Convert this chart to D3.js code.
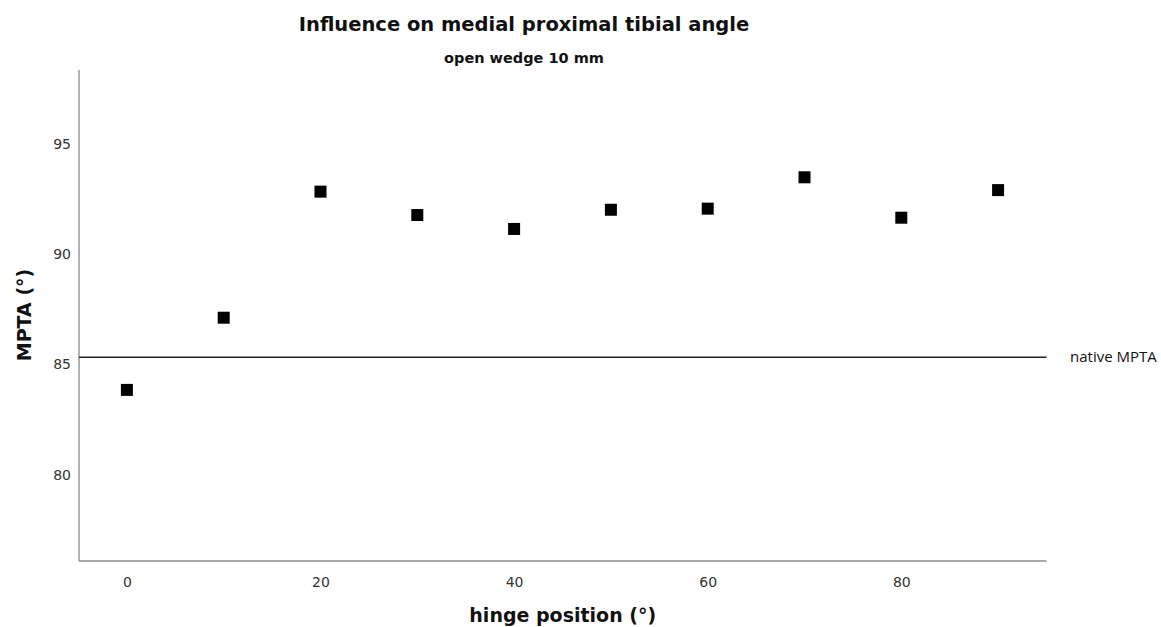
<!DOCTYPE html>
<html>
<head>
<meta charset="utf-8">
<script src="https://cdn.jsdelivr.net/npm/d3@7"></script>
<style>
    body { margin: 0; background: #fff; }
    svg { display: block; }
</style>
</head>
<body>
<div class="scatter"></div>
<script>
const width = 1161, height = 627;
const fontFamily = 'DejaVu Sans, sans-serif';

// data
const hinge_positions = [0, 10, 20, 30, 40, 50, 60, 70, 80, 90];
const mpta_values = [83.85, 87.12, 92.83, 91.77, 91.14, 92.01, 92.06, 93.48, 91.65, 92.90];
const native_mpta = 85.33;
const x_ticks = [0, 20, 40, 60, 80];
const y_ticks = [80, 85, 90, 95];

let padding = {'left': 79, 'right': width - 1046.5, 'top': 70, 'bottom': height - 561};

let svg = d3.select('.scatter')
    .append('svg')
    .attr('width', width)
    .attr('height', height)
    .append('g');

let x = d3.scaleLinear()
    .domain([-5, 95])
    .range([78.5, 1046.5]);
let y = d3.scaleLinear()
    .domain([76.1, 98.34])
    .range([height - padding.bottom, padding.top]);

// x axis
let axis_x = d3.axisBottom(x).tickValues(x_ticks).tickSize(0).tickPadding(16).tickFormat(d => d);
let gx = svg.append('g')
    .attr('transform', `translate(0, ${height - padding.bottom})`)
    .call(axis_x)
    .attr('font-family', fontFamily)
    .attr('font-size', '14px');
gx.select('.domain').attr('stroke', '#8a8a8a').attr('stroke-width', 1.3)
    .attr('d', `M${padding.left},0H${1046.5}`);
gx.selectAll('text').attr('fill', '#333');

// y axis
let axis_y = d3.axisLeft(y).tickValues(y_ticks).tickSize(0).tickPadding(8).tickFormat(d => d);
let gy = svg.append('g')
    .attr('transform', `translate(${padding.left}, 0)`)
    .call(axis_y)
    .attr('font-family', fontFamily)
    .attr('font-size', '14px');
gy.select('.domain').attr('stroke', '#8a8a8a').attr('stroke-width', 1.3)
    .attr('d', `M0,${padding.top}V${height - padding.bottom}`);
gy.selectAll('text').attr('fill', '#333');

// reference line
svg.append('line')
    .attr('x1', padding.left)
    .attr('x2', 1046.5)
    .attr('y1', y(native_mpta))
    .attr('y2', y(native_mpta))
    .attr('stroke', '#222')
    .attr('stroke-width', 1.6);
svg.append('text')
    .attr('x', 1070)
    .attr('y', y(native_mpta))
    .attr('dy', '0.35em')
    .attr('font-family', 'Open Sans, sans-serif')
    .attr('font-size', '15px')
    .attr('fill', '#111')
    .text('native MPTA');

// points
let size = 12;
svg.append('g')
    .selectAll('rect')
    .data(hinge_positions)
    .enter().append('rect')
    .attr('x', (d) => x(d) - size / 2)
    .attr('y', (d, i) => y(mpta_values[i]) - size / 2)
    .attr('width', size)
    .attr('height', size)
    .attr('fill', '#000');

// titles
svg.append('text')
    .attr('x', 524)
    .attr('y', 31)
    .attr('text-anchor', 'middle')
    .attr('font-family', fontFamily)
    .attr('font-weight', 'bold')
    .attr('font-size', '19.5px')
    .attr('fill', '#111')
    .text('Influence on medial proximal tibial angle');
svg.append('text')
    .attr('x', 524)
    .attr('y', 63)
    .attr('text-anchor', 'middle')
    .attr('font-family', fontFamily)
    .attr('font-weight', 'bold')
    .attr('font-size', '14.5px')
    .attr('fill', '#111')
    .text('open wedge 10 mm');

svg.append('text')
    .attr('x', (padding.left + 1046.5) / 2)
    .attr('y', 622)
    .attr('text-anchor', 'middle')
    .attr('font-family', fontFamily)
    .attr('font-weight', 'bold')
    .attr('font-size', '19px')
    .attr('fill', '#111')
    .text('hinge position (°)');

svg.append('text')
    .attr('transform', `translate(31, 315) rotate(-90)`)
    .attr('text-anchor', 'middle')
    .attr('font-family', fontFamily)
    .attr('font-weight', 'bold')
    .attr('font-size', '19px')
    .attr('fill', '#111')
    .text('MPTA (°)');
</script>
</body>
</html>
